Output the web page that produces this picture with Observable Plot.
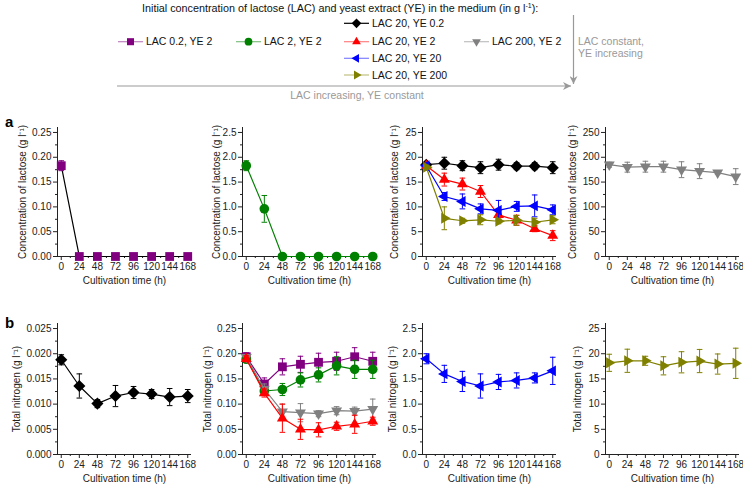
<!DOCTYPE html>
<html><head><meta charset="utf-8">
<script src="https://cdn.jsdelivr.net/npm/d3@7"></script>
<script src="https://cdn.jsdelivr.net/npm/@observablehq/plot@0.6"></script>
<style>
body{margin:0;background:#fff;font-family:"Liberation Sans",Arial,sans-serif;}
#root{position:relative;width:743px;height:484px;overflow:hidden;background:#fff;}
.panel{position:absolute;}
.plabel{position:absolute;font-weight:bold;font-size:15px;color:#000;}
#header{position:absolute;left:0;top:0;}
</style></head><body><div id="root"></div>
<script>
// ---------- data ----------
const times = [0, 24, 48, 72, 96, 120, 144, 168];
const seriesLabels = ["LAC 0.2, YE 2", "LAC 2, YE 2", "LAC 20, YE 0.2", "LAC 20, YE 2", "LAC 20, YE 20", "LAC 20, YE 200", "LAC 200, YE 2"];
const seriesColors = ["#800080", "#008000", "#000000", "#ff0000", "#0000ff", "#808000", "#808080"];
const seriesShapes = ["square", "circle", "diamond", "triUp", "triLeft", "triRight", "triDown"];

// (a) concentration of lactose (g/l)
const lacLAC02YE2 = [0.183, 0, 0, 0, 0, 0, 0, 0];
const lacLAC02YE2Err = [0.01, 0, 0, 0, 0, 0, 0, 0];
const lacLAC2YE2 = [1.83, 0.96, 0, 0, 0, 0, 0, 0];
const lacLAC2YE2Err = [0.1, 0.27, 0, 0, 0, 0, 0, 0];
const lacLAC20YE02 = [18.5, 18.8, 18.3, 17.9, 18.5, 18.2, 18.2, 17.9];
const lacLAC20YE02Err = [0.4, 1.2, 1.0, 1.2, 1.1, 0.7, 0.7, 1.2];
const lacLAC20YE2 = [18.3, 15.5, 14.6, 13.1, 8.4, 7.3, 5.6, 4.2];
const lacLAC20YE2Err = [0.4, 1.3, 1.2, 1.2, 1.0, 1.0, 0.6, 1.0];
const lacLAC20YE20 = [18.3, 12.1, 11.1, 9.6, 9.3, 10.1, 10.2, 9.4];
const lacLAC20YE20Err = [0.4, 0.8, 1.5, 1.0, 2.0, 1.0, 2.2, 1.0];
const lacLAC20YE200 = [18.0, 7.7, 7.2, 7.4, 7.1, 7.3, 6.9, 7.4];
const lacLAC20YE200Err = [0.4, 2.3, 0.5, 1.0, 0.5, 1.0, 0.8, 0.8];
const lacLAC200YE2 = [185, 180, 181, 181, 175, 172, 169, 161];
const lacLAC200YE2Err = [5, 10, 11, 11, 16, 15, 3, 16];

// (b) total nitrogen (g/l)
const nitLAC20YE02 = [0.0188, 0.0136, 0.0101, 0.0116, 0.0123, 0.0120, 0.0114, 0.0116];
const nitLAC20YE02Err = [0.0010, 0.0024, 0.0008, 0.0021, 0.0012, 0.0009, 0.0017, 0.0013];
const nitLAC02YE2 = [0.194, 0.140, 0.174, 0.179, 0.183, 0.185, 0.194, 0.185];
const nitLAC02YE2Err = [0.008, 0.012, 0.016, 0.016, 0.018, 0.018, 0.018, 0.018];
const nitLAC2YE2 = [0.189, 0.126, 0.129, 0.148, 0.158, 0.176, 0.169, 0.169];
const nitLAC2YE2Err = [0.006, 0.005, 0.012, 0.014, 0.014, 0.018, 0.018, 0.018];
const nitLAC200YE2 = [0.193, 0.130, 0.085, 0.083, 0.081, 0.087, 0.086, 0.090];
const nitLAC200YE2Err = [0.005, 0.010, 0.015, 0.018, 0.006, 0.008, 0.008, 0.020];
const nitLAC20YE2 = [0.190, 0.122, 0.072, 0.050, 0.049, 0.056, 0.060, 0.066];
const nitLAC20YE2Err = [0.006, 0.008, 0.028, 0.020, 0.014, 0.008, 0.018, 0.008];
const nitLAC20YE20 = [1.90, 1.60, 1.45, 1.36, 1.44, 1.47, 1.52, 1.66];
const nitLAC20YE20Err = [0.10, 0.17, 0.20, 0.24, 0.15, 0.15, 0.10, 0.27];
const nitLAC20YE200 = [18.2, 18.6, 18.6, 17.6, 18.3, 18.55, 17.95, 18.1];
const nitLAC20YE200Err = [1.7, 2.3, 0.9, 1.8, 2.1, 2.3, 2.0, 3.0];

// axis ticks
const yTicksA = [[0, 0.05, 0.1, 0.15, 0.2, 0.25], [0, 0.5, 1, 1.5, 2, 2.5], [0, 5, 10, 15, 20, 25], [0, 50, 100, 150, 200, 250]];
const yTicksB = [[0, 0.005, 0.01, 0.015, 0.02, 0.025], [0, 0.05, 0.1, 0.15, 0.2, 0.25], [0, 0.5, 1, 1.5, 2, 2.5], [0, 5, 10, 15, 20, 25]];
const yFormatsA = [".2f", ".1f", "d", "d"];
const yFormatsB = [".3f", ".2f", ".1f", "d"];

// ---------- symbols ----------
function makeSymbol(kind) {
  return {
    draw(ctx, size) {
      const R = Math.sqrt(size / Math.PI);
      if (kind === "square") { const h = 0.8 * R; ctx.rect(-h, -h, 2 * h, 2 * h); return; }
      if (kind === "circle") { const c = 0.88 * R; ctx.moveTo(c, 0); ctx.arc(0, 0, c, 0, 2 * Math.PI); return; }
      if (kind === "diamond") { const d = 1.1 * R; ctx.moveTo(0, -d); ctx.lineTo(d, 0); ctx.lineTo(0, d); ctx.lineTo(-d, 0); ctx.closePath(); return; }
      if (kind === "cap") { ctx.moveTo(-R, 0); ctx.lineTo(R, 0); return; }
      const ang = {triUp: -90, triDown: 90, triLeft: 180, triRight: 0}[kind] * Math.PI / 180;
      const t = 1.15 * R;
      for (let i = 0; i < 3; i++) {
        const a = ang + i * 2 * Math.PI / 3;
        const x = t * Math.cos(a), y = t * Math.sin(a);
        if (i) ctx.lineTo(x, y); else ctx.moveTo(x, y);
      }
      ctx.closePath();
    }
  };
}
const capSymbol = makeSymbol("cap");

const root = document.getElementById("root");

// ---------- panels ----------
const xDomain = [-5, 173];
const minorX = d3.range(12, 168, 24);

function makePanel(cfg) {
  const rows = [];
  cfg.series.forEach((s, k) => {
    times.forEach((t, i) => rows.push({t, v: cfg.values[k][i], e: cfg.errors[k][i], s}));
  });
  const ymax = cfg.yTicks[cfg.yTicks.length - 1] * 1.04;
  const step = cfg.yTicks[1] - cfg.yTicks[0];
  const minorY = cfg.yTicks.slice(0, -1).map(v => v + step / 2);
  const marks = [
    Plot.axisY({ticks: minorY, tickSize: 2, tickFormat: () => "", label: null, stroke: "#222"}),
    Plot.axisY({ticks: cfg.yTicks, tickSize: 4, tickPadding: 2, tickFormat: d3.format(cfg.yFormat),
      label: cfg.ylabel, labelAnchor: "center", labelOffset: cfg.labelOffset, labelArrow: "none", stroke: "#222", fill: "#222"}),
    Plot.axisX({ticks: minorX, tickSize: 2, tickFormat: () => "", label: null, stroke: "#222"}),
    Plot.axisX({ticks: times, tickSize: 4, tickPadding: 2, tickFormat: d3.format("d"),
      label: "Cultivation time (h)", labelAnchor: "center", labelOffset: 27, labelArrow: "none", stroke: "#222", fill: "#222"}),
    Plot.ruleY([0], {stroke: "#222", strokeWidth: 1}),
    Plot.ruleX([xDomain[0]], {stroke: "#222", strokeWidth: 1})
  ];
  for (const s of cfg.series) {
    const color = seriesColors[s];
    const d = rows.filter(r => r.s === s);
    const de = d.filter(r => r.e > 0);
    marks.push(Plot.line(d, {x: "t", y: "v", stroke: cfg.lineColor || color, strokeWidth: 1.2}));
    marks.push(Plot.ruleX(de, {x: "t", y1: r => r.v - r.e, y2: r => r.v + r.e, stroke: color, strokeWidth: 1}));
    marks.push(Plot.dot(de, {x: "t", y: r => r.v + r.e, symbol: capSymbol, r: 2.8, stroke: color, fill: "none", strokeWidth: 1}));
    marks.push(Plot.dot(de, {x: "t", y: r => r.v - r.e, symbol: capSymbol, r: 2.8, stroke: color, fill: "none", strokeWidth: 1}));
    marks.push(Plot.dot(d, {x: "t", y: "v", symbol: makeSymbol(seriesShapes[s]), r: 5.5, fill: color, stroke: "none"}));
  }
  const marginLeft = 52;
  const chart = Plot.plot({
    width: 190, height: cfg.height,
    marginLeft, marginRight: 4, marginTop: cfg.marginTop, marginBottom: cfg.marginBottom,
    x: {domain: xDomain},
    y: {domain: [0, ymax]},
    style: {fontFamily: "'Liberation Sans', Arial, sans-serif", fontSize: "10px", color: "#222", background: "transparent", overflow: "visible"},
    marks
  });
  chart.classList.add("panel");
  chart.style.left = (cfg.axisX - marginLeft) + "px";
  chart.style.top = cfg.top + "px";
  root.appendChild(chart);
}

const axisXs = [57, 242, 422, 605];
const rowA = {top: 110, height: 180, marginTop: 17, marginBottom: 34};
const rowB = {top: 306, height: 178, marginTop: 17, marginBottom: 30};
const lacLabel = "Concentration of lactose (g l\u207B\u00B9)";
const nitLabel = "Total nitrogen (g l\u207B\u00B9)";

makePanel({...rowA, axisX: axisXs[0], labelOffset: 39, yTicks: yTicksA[0], yFormat: yFormatsA[0], ylabel: lacLabel,
  series: [0], values: [lacLAC02YE2], errors: [lacLAC02YE2Err], lineColor: "#000"});
makePanel({...rowA, axisX: axisXs[1], labelOffset: 30, yTicks: yTicksA[1], yFormat: yFormatsA[1], ylabel: lacLabel,
  series: [1], values: [lacLAC2YE2], errors: [lacLAC2YE2Err]});
makePanel({...rowA, axisX: axisXs[2], labelOffset: 32, yTicks: yTicksA[2], yFormat: yFormatsA[2], ylabel: lacLabel,
  series: [2, 3, 4, 5], values: [lacLAC20YE02, lacLAC20YE2, lacLAC20YE20, lacLAC20YE200],
  errors: [lacLAC20YE02Err, lacLAC20YE2Err, lacLAC20YE20Err, lacLAC20YE200Err]});
makePanel({...rowA, axisX: axisXs[3], labelOffset: 37, yTicks: yTicksA[3], yFormat: yFormatsA[3], ylabel: lacLabel,
  series: [6], values: [lacLAC200YE2], errors: [lacLAC200YE2Err]});

makePanel({...rowB, axisX: axisXs[0], labelOffset: 45, yTicks: yTicksB[0], yFormat: yFormatsB[0], ylabel: nitLabel,
  series: [2], values: [nitLAC20YE02], errors: [nitLAC20YE02Err]});
makePanel({...rowB, axisX: axisXs[1], labelOffset: 39, yTicks: yTicksB[1], yFormat: yFormatsB[1], ylabel: nitLabel,
  series: [0, 1, 6, 3], values: [nitLAC02YE2, nitLAC2YE2, nitLAC200YE2, nitLAC20YE2],
  errors: [nitLAC02YE2Err, nitLAC2YE2Err, nitLAC200YE2Err, nitLAC20YE2Err]});
makePanel({...rowB, axisX: axisXs[2], labelOffset: 34, yTicks: yTicksB[2], yFormat: yFormatsB[2], ylabel: nitLabel,
  series: [4], values: [nitLAC20YE20], errors: [nitLAC20YE20Err]});
makePanel({...rowB, axisX: axisXs[3], labelOffset: 32, yTicks: yTicksB[3], yFormat: yFormatsB[3], ylabel: nitLabel,
  series: [5], values: [nitLAC20YE200], errors: [nitLAC20YE200Err]});

// panel letters
for (const [txt, top] of [["a", 113], ["b", 314]]) {
  const el = document.createElement("div");
  el.className = "plabel"; el.textContent = txt;
  el.style.left = "5px"; el.style.top = top + "px";
  root.appendChild(el);
}

// ---------- header legend ----------
const legendPos = [[118, 41.7], [236, 41.7], [344, 23.3], [344, 41.7], [344, 58.3], [344, 75], [464, 41.7]];
const hdr = d3.create("svg").attr("id", "header").attr("width", 743).attr("height", 108)
  .style("font-family", "'Liberation Sans', Arial, sans-serif");
hdr.append("defs").append("marker").attr("id", "ah").attr("viewBox", "0 0 10 10").attr("refX", 10).attr("refY", 5)
  .attr("markerWidth", 10).attr("markerHeight", 8).attr("markerUnits", "userSpaceOnUse").attr("orient", "auto")
  .append("path").attr("d", "M0,0L10,5L0,10L3,5Z").attr("fill", "#999");
const title = hdr.append("text").attr("x", 142).attr("y", 12).attr("font-size", 10.8).attr("fill", "#111")
  .text("Initial concentration of lactose (LAC) and yeast extract (YE) in the medium (in g l");
title.append("tspan").attr("font-size", 7).attr("dy", -4).text("-1");
title.append("tspan").attr("dy", 4).text("):");
seriesLabels.forEach((lab, i) => {
  const [x, y] = legendPos[i];
  const g = hdr.append("g").attr("transform", `translate(${x},${y})`);
  g.append("line").attr("x1", 0).attr("x2", 25).attr("stroke", seriesColors[i]).attr("stroke-opacity", i === 2 ? 1 : 0.5).attr("stroke-width", 1.2);
  g.append("path").attr("transform", "translate(12.5,0)")
    .attr("d", d3.symbol(makeSymbol(seriesShapes[i]), Math.PI * 4.4 * 4.4)()).attr("fill", seriesColors[i]);
  g.append("text").attr("x", 28).attr("dy", "0.35em").attr("font-size", 10.5).attr("fill", "#111").text(lab);
});
hdr.append("line").attr("x1", 117).attr("y1", 86).attr("x2", 571).attr("y2", 86)
  .attr("stroke", "#999").attr("stroke-width", 1.2).attr("marker-end", "url(#ah)");
hdr.append("line").attr("x1", 573.5).attr("y1", 15).attr("x2", 573.5).attr("y2", 84)
  .attr("stroke", "#999").attr("stroke-width", 1.2).attr("marker-end", "url(#ah)");
hdr.append("text").attr("x", 357).attr("y", 95).attr("dy", "0.35em").attr("text-anchor", "middle")
  .attr("font-size", 10.5).attr("fill", "#999").text("LAC increasing, YE constant");
hdr.append("text").attr("x", 578).attr("y", 41).attr("dy", "0.35em").attr("font-size", 10.5).attr("fill", "#999").text("LAC constant,");
hdr.append("text").attr("x", 578).attr("y", 53).attr("dy", "0.35em").attr("font-size", 10.5).attr("fill", "#999").text("YE increasing");
root.appendChild(hdr.node());
</script></body></html>
